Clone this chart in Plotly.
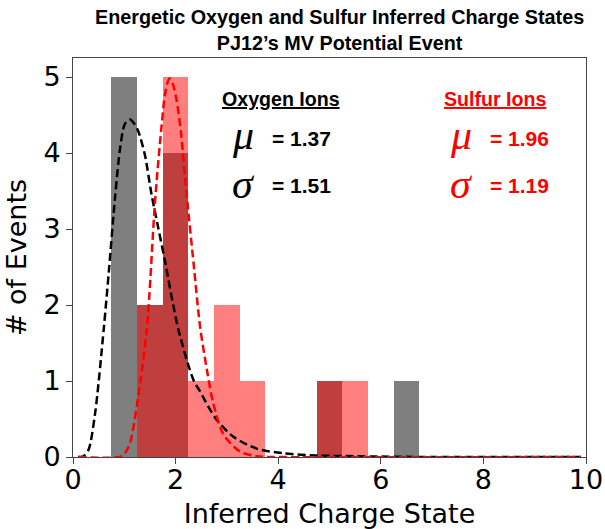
import plotly.graph_objects as go

# ---- data ----
bin_centers = [1.0, 1.5, 2.0, 2.5, 3.0, 3.5, 4.0, 4.5, 5.0, 5.5, 6.0, 6.5]
oxygen_counts = [5, 2, 4, 0, 0, 0, 0, 0, 1, 0, 0, 1]
sulfur_counts = [0, 2, 5, 1, 2, 1, 0, 0, 1, 1, 0, 0]
bin_width = 0.5

oxygen_fit_x = [0.10, 0.20, 0.30, 0.43, 0.60, 0.70, 0.82, 0.92, 1.01, 1.11, 1.20, 1.27, 1.40, 1.53, 1.66,
                1.79, 2.05, 2.35, 2.48, 2.64, 2.80, 3.12, 3.58, 4.10, 4.75, 5.50, 7.00, 9.90]
oxygen_fit_y = [0.00, 0.01, 0.09, 0.57, 1.69, 2.45, 3.42, 4.07, 4.38, 4.44, 4.38, 4.29, 3.98, 3.46, 3.02,
                2.59, 1.69, 1.01, 0.86, 0.66, 0.49, 0.27, 0.11, 0.05, 0.02, 0.01, 0.00, 0.00]

sulfur_fit_x = [0.10, 0.90, 1.00, 1.11, 1.27, 1.44, 1.60, 1.73, 1.80, 1.88, 1.95, 2.02, 2.10, 2.22,
                2.35, 2.48, 2.61, 2.73, 2.93, 3.26, 3.58, 4.00, 9.90]
sulfur_fit_y = [0.00, 0.00, 0.04, 0.18, 0.79, 1.69, 3.37, 4.38, 4.80, 4.98, 4.90, 4.69, 4.30, 3.42,
                2.55, 1.70, 1.15, 0.72, 0.30, 0.07, 0.01, 0.00, 0.00]

oxygen_stats = {"mu": "1.37", "sigma": "1.51"}
sulfur_stats = {"mu": "1.96", "sigma": "1.19"}

title_lines = ["Energetic Oxygen and Sulfur Inferred Charge States", "PJ12\u2019s MV Potential Event"]
x_ticks = [0, 2, 4, 6, 8, 10]
y_ticks = [0, 1, 2, 3, 4, 5]

# ---- figure ----
W, H = 605, 529
L, R, T, B = 73, 19, 58, 72
X0, X1 = 0, 10
Y0, Y1 = 0, 5.25

def px2x(px):
    return X0 + (px - L) / (W - L - R) * (X1 - X0)

def px2y(py):
    return Y0 + (H - B - py) / (H - T - B) * (Y1 - Y0)

fig = go.Figure()
fig.add_trace(go.Bar(x=bin_centers, y=oxygen_counts, width=bin_width,
                     marker=dict(color="rgba(0,0,0,0.5)", line=dict(width=0)),
                     showlegend=False))
fig.add_trace(go.Bar(x=bin_centers, y=sulfur_counts, width=bin_width,
                     marker=dict(color="rgba(255,0,0,0.5)", line=dict(width=0)),
                     showlegend=False))
fig.add_trace(go.Scatter(x=oxygen_fit_x, y=oxygen_fit_y, mode="lines",
                         line=dict(color="black", width=2.5, dash="8px,4px", shape="spline", smoothing=0.8),
                         showlegend=False))
fig.add_trace(go.Scatter(x=sulfur_fit_x, y=sulfur_fit_y, mode="lines",
                         line=dict(color="red", width=2.5, dash="8px,4px", shape="spline", smoothing=0.8),
                         showlegend=False))

bold = "Liberation Sans, Arial, sans-serif"
serif = "Liberation Serif, DejaVu Serif, serif"
anns = []
def txt(text, X, Y, size, color, family=bold, xanchor="center", yanchor="middle"):
    anns.append(dict(text=text, x=px2x(X), y=px2y(Y), xref="x", yref="y", showarrow=False,
                     font=dict(size=size, color=color, family=family), xanchor=xanchor, yanchor=yanchor))

for col, cx, mx, st, name in [("black", 281, 243, oxygen_stats, "Oxygen Ions"),
                              ("red", 495, 461, sulfur_stats, "Sulfur Ions")]:
    txt("<b><u>%s</u></b>" % name, cx, 99, 19.6, col)
    txt("<i>\u03bc</i>", mx, 135, 42, col, family=serif)
    txt("<i>\u03c3</i>", mx, 184, 42, col, family=serif)
    txt("<b>= %s</b>" % st["mu"], mx + 27, 138, 21, col, xanchor="left")
    txt("<b>= %s</b>" % st["sigma"], mx + 27, 185, 21, col, xanchor="left")

anns.append(dict(text="<b>%s<br>%s</b>" % tuple(title_lines), x=(339 - L) / (W - L - R), y=(H - B - 4) / (H - T - B),
                 xref="paper", yref="paper", showarrow=False, xanchor="center", yanchor="top",
                 font=dict(size=19.8, color="black", family=bold)))

axis_font = dict(family="DejaVu Sans, sans-serif", size=27, color="black")
fig.update_layout(
    width=W, height=H, margin=dict(l=L, r=R, t=T, b=B, pad=0, autoexpand=False),
    paper_bgcolor="white", plot_bgcolor="white",
    barmode="overlay", bargap=0,
    annotations=anns,
    xaxis=dict(range=[X0, X1], tickvals=x_ticks, ticks="outside", ticklen=6, tickcolor="#444",
               showline=True, linecolor="#444", linewidth=1, mirror=True, showgrid=False, zeroline=False,
               automargin=False, ticklabelstandoff=-7,
               tickfont=axis_font, title=dict(text="Inferred Charge State", font=axis_font, standoff=16)),
    yaxis=dict(range=[Y0, Y1], tickvals=y_ticks, ticks="outside", ticklen=6, tickcolor="#444",
               showline=True, linecolor="#444", linewidth=1, mirror=True, showgrid=False, zeroline=False,
               automargin=False,
               tickfont=axis_font, title=dict(text="# of Events", font=axis_font, standoff=8)),
)

fig.write_html("out.html")
